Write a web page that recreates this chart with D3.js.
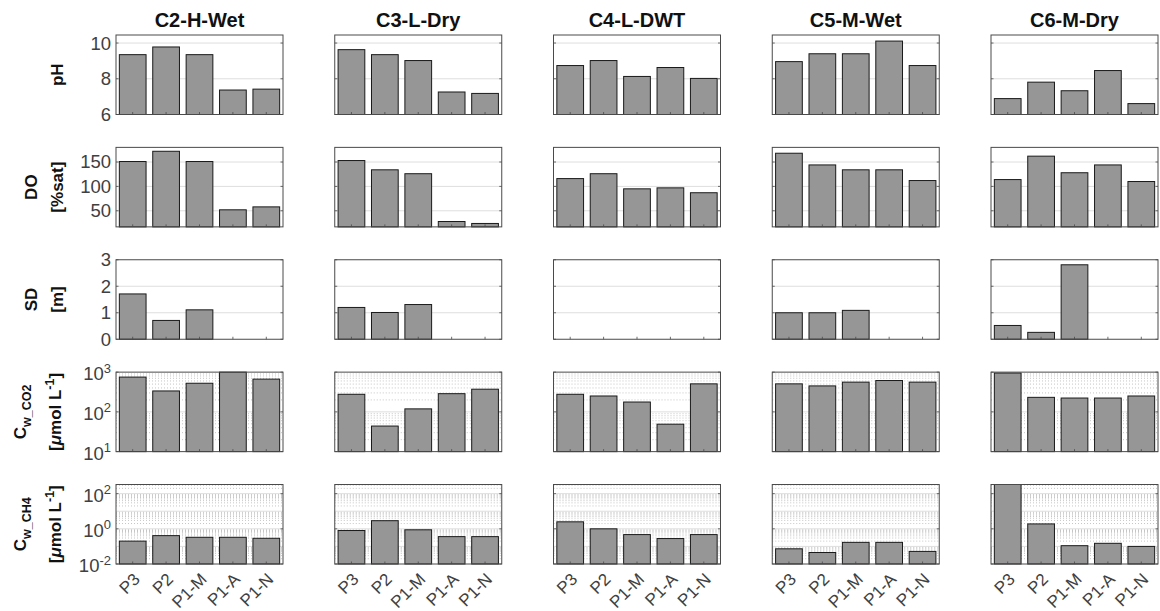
<!DOCTYPE html>
<html>
<head>
<meta charset="utf-8">
<script src="https://cdn.jsdelivr.net/npm/d3@7"></script>
<style>
  html, body { margin: 0; padding: 0; background: #fff; }
  svg { display: block; font-family: Arial, "Liberation Sans", Helvetica, sans-serif; }
</style>
</head>
<body>
<svg id="chart" width="1160" height="611"></svg>
<script>
// Sites (columns) and sampling stations (bars in each panel)
const sites = ["C2-H-Wet", "C3-L-Dry", "C4-L-DWT", "C5-M-Wet", "C6-M-Dry"];
const stations = ["P3", "P2", "P1-M", "P1-A", "P1-N"];

// One array per site, values in station order
const pH = [
  [9.35, 9.78, 9.35, 7.37, 7.42],
  [9.63, 9.35, 9.02, 7.26, 7.18],
  [8.74, 9.02, 8.13, 8.63, 8.02],
  [8.96, 9.40, 9.40, 10.11, 8.74],
  [6.89, 7.81, 7.33, 8.46, 6.61]
];
const DO = [
  [151, 172, 151, 52, 58],
  [153, 134, 126, 28, 24],
  [116, 126, 95, 97, 87],
  [168, 144, 134, 134, 112],
  [114, 162, 128, 144, 110]
];
const SD = [
  [1.71, 0.71, 1.11, null, null],
  [1.20, 1.01, 1.31, null, null],
  [null, null, null, null, null],
  [1.00, 1.00, 1.09, null, null],
  [0.52, 0.26, 2.81, null, null]
];
const CO2 = [
  [750, 336, 525, 1050, 667],
  [277, 44, 119, 287, 372],
  [277, 251, 177, 49, 507],
  [507, 450, 560, 615, 560],
  [950, 232, 223, 223, 251]
];
const CH4 = [
  [0.20, 0.41, 0.33, 0.33, 0.29],
  [0.80, 2.9, 0.88, 0.36, 0.36],
  [2.5, 1.0, 0.47, 0.28, 0.47],
  [0.073, 0.045, 0.17, 0.17, 0.052],
  [400, 1.9, 0.11, 0.15, 0.10]
];

// Y tick values for each row
const pHTicks = [6, 8, 10];
const DOTicks = [50, 100, 150];
const SDTicks = [0, 1, 2, 3];
const CO2Ticks = [1, 2, 3];      // exponents of 10
const CH4Ticks = [-2, 0, 2];     // exponents of 10

const rows = [
  { data: pH,  type: "lin", domain: [6, 10.45], ticks: pHTicks, label: "pH" },
  { data: DO,  type: "lin", domain: [17, 180], ticks: DOTicks, label: ["DO", "[%sat]"] },
  { data: SD,  type: "lin", domain: [0, 3], ticks: SDTicks, label: ["SD", "[m]"] },
  { data: CO2, type: "log", domain: [10, 1000], ticks: CO2Ticks, label: ["CO2"] },
  { data: CH4, type: "log", domain: [0.01, 331], ticks: CH4Ticks, label: ["CH4"] }
];

const svg = d3.select("#chart");

const panelW = 167, panelH = 79.5;
const colX = d3.scaleLinear().domain([0, 4]).range([116, 991]);
const rowY = d3.scaleLinear().domain([0, 4]).range([35, 484.5]);

const axisColor = "#4a4a4a";
const textColor = "#404040";

sites.forEach((site, c) => {
  const x0 = colX(c);
  // column title
  svg.append("text")
    .attr("x", x0 + panelW / 2)
    .attr("y", 27)
    .attr("text-anchor", "middle")
    .attr("font-size", 20)
    .attr("font-weight", "bold")
    .attr("fill", "#111")
    .text(site);
});

rows.forEach((row, r) => {
  const y0 = rowY(r);
  sites.forEach((site, c) => {
    const x0 = colX(c);
    const g = svg.append("g").attr("transform", `translate(${x0},${y0})`);

    const x = d3.scaleBand().domain(stations).range([0, panelW]).paddingInner(0.2).paddingOuter(0.1);
    const y = (row.type === "log" ? d3.scaleLog() : d3.scaleLinear())
      .domain(row.domain).range([panelH, 0]).clamp(true);

    // grid
    if (row.type === "log") {
      const lo = Math.floor(Math.log10(row.domain[0]));
      const hi = Math.ceil(Math.log10(row.domain[1]));
      const minors = [];
      for (let e = lo; e < hi; e++) {
        for (let m = 2; m <= 9; m++) {
          const v = m * Math.pow(10, e);
          if (v > row.domain[0] && v < row.domain[1]) minors.push(v);
        }
      }
      g.selectAll(".minor").data(minors).join("line")
        .attr("x1", 0).attr("x2", panelW)
        .attr("y1", d => y(d)).attr("y2", d => y(d))
        .attr("stroke", "#b8b8b8").attr("stroke-width", 0.8)
        .attr("stroke-dasharray", "1,2");
      const majors = d3.range(lo, hi + 1).map(e => Math.pow(10, e))
        .filter(v => v > row.domain[0] && v < row.domain[1]);
      g.selectAll(".major").data(majors).join("line")
        .attr("x1", 0).attr("x2", panelW)
        .attr("y1", d => y(d)).attr("y2", d => y(d))
        .attr("stroke", "#dedede").attr("stroke-width", 1);
    } else {
      const majors = row.ticks.filter(v => v > row.domain[0] && v < row.domain[1]);
      g.selectAll(".major").data(majors).join("line")
        .attr("x1", 0).attr("x2", panelW)
        .attr("y1", d => y(d)).attr("y2", d => y(d))
        .attr("stroke", "#dedede").attr("stroke-width", 1);
    }

    // bars
    const vals = row.data[c];
    const base = row.domain[0];
    g.selectAll(".bar")
      .data(stations.map((s, i) => ({ s, v: vals[i] })).filter(d => d.v != null))
      .join("rect")
      .attr("x", d => x(d.s))
      .attr("width", x.bandwidth())
      .attr("y", d => y(d.v))
      .attr("height", d => y(base) - y(d.v))
      .attr("fill", "#969696")
      .attr("stroke", "#1a1a1a")
      .attr("stroke-width", 1);

    // tick marks (inside, left/right and bottom)
    const tickVals = row.type === "log" ? row.ticks.map(e => Math.pow(10, e)) : row.ticks;
    const tl = 2.5;
    tickVals.forEach(v => {
      const yy = y(v);
      g.append("line").attr("x1", 0).attr("x2", tl).attr("y1", yy).attr("y2", yy)
        .attr("stroke", axisColor).attr("stroke-width", 0.8);
      g.append("line").attr("x1", panelW - tl).attr("x2", panelW).attr("y1", yy).attr("y2", yy)
        .attr("stroke", axisColor).attr("stroke-width", 0.8);
    });
    stations.forEach(s => {
      const xx = x(s) + x.bandwidth() / 2;
      g.append("line").attr("x1", xx).attr("x2", xx).attr("y1", panelH).attr("y2", panelH - tl)
        .attr("stroke", axisColor).attr("stroke-width", 0.8);
    });

    // box
    g.append("rect").attr("x", 0).attr("y", 0).attr("width", panelW).attr("height", panelH)
      .attr("fill", "none").attr("stroke", axisColor).attr("stroke-width", 1);

    // y tick labels on first column
    if (c === 0) {
      tickVals.forEach((v, i) => {
        const t = g.append("text")
          .attr("x", -5)
          .attr("y", y(v))
          .attr("text-anchor", "end")
          .attr("fill", textColor)
          .attr("font-size", 18.5);
        if (row.type === "log") {
          t.attr("dy", "0.45em");
          t.append("tspan").text("10");
          t.append("tspan").attr("dy", "-0.6em").attr("font-size", 13).text(String(row.ticks[i]));
        } else {
          t.attr("dy", "0.35em").text(v);
        }
      });
    }

    // x tick labels on bottom row
    if (r === rows.length - 1) {
      stations.forEach(s => {
        const xx = x0 + x(s) + x.bandwidth() / 2;
        svg.append("text")
          .attr("transform", `translate(${xx + 4},${y0 + panelH + 12}) rotate(-45)`)
          .attr("text-anchor", "end")
          .attr("dy", "0.35em")
          .attr("font-size", 17)
          .attr("fill", textColor)
          .text(s);
      });
    }
  });

  // row labels
  const cy = y0 + panelH / 2;
  const lab = svg.append("g").attr("font-weight", "bold").attr("font-size", 17).attr("fill", "#111");
  if (row.label === "pH") {
    lab.append("text").attr("transform", `translate(63,${cy}) rotate(-90)`)
      .attr("text-anchor", "middle").text("pH");
  } else if (row.type === "lin") {
    lab.append("text").attr("transform", `translate(37,${cy}) rotate(-90)`)
      .attr("text-anchor", "middle").text(row.label[0]);
    lab.append("text").attr("transform", `translate(63,${cy}) rotate(-90)`)
      .attr("text-anchor", "middle").text(row.label[1]);
  } else {
    const t1 = lab.append("text").attr("transform", `translate(26,${cy}) rotate(-90)`)
      .attr("text-anchor", "middle");
    t1.append("tspan").text("C");
    t1.append("tspan").attr("dy", 5).attr("font-size", 12.5).text("w_" + row.label[0]);
    const t2 = lab.append("text").attr("transform", `translate(61,${cy}) rotate(-90)`)
      .attr("text-anchor", "middle");
    t2.append("tspan").text("[");
    t2.append("tspan").attr("font-style", "italic").text("\u03bc");
    t2.append("tspan").text("mol L");
    t2.append("tspan").attr("dy", -7).attr("font-size", 12.5).text("-1");
    t2.append("tspan").attr("dy", 7).text("]");
  }
});
</script>
</body>
</html>
